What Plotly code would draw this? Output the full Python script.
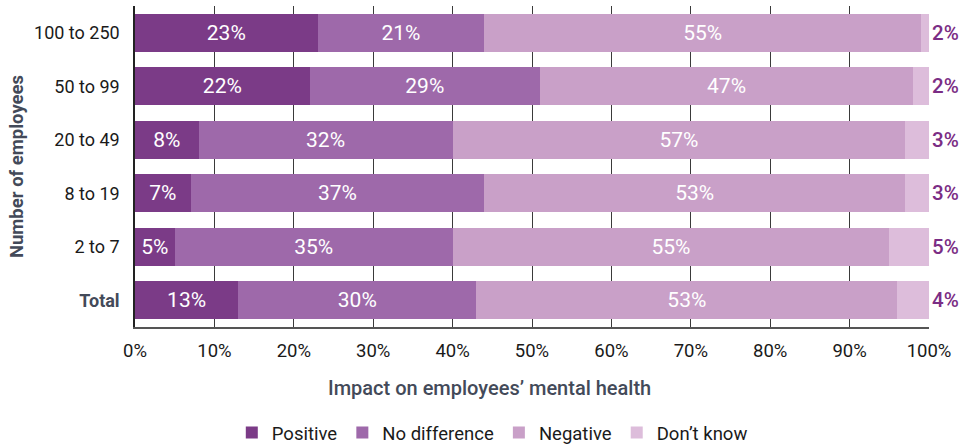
import plotly.graph_objects as go

# Company size bands, top to bottom
categories = ["100 to 250", "50 to 99", "20 to 49", "8 to 19", "2 to 7", "Total"]

# Share of respondents (%) per impact answer
positive = [23, 22, 8, 7, 5, 13]
no_difference = [21, 29, 32, 37, 35, 30]
negative = [55, 47, 57, 53, 55, 53]
dont_know = [2, 2, 3, 3, 5, 4]

x_ticks = list(range(0, 101, 10))
x_tick_labels = [f"{v}%" for v in x_ticks]

FONT = "Roboto"
SLATE = "#434a59"

series = [
    ("Positive", positive, "#7b3b87"),
    ("No difference", no_difference, "#9e69aa"),
    ("Negative", negative, "#c9a0c8"),
    ("Don\u2019t know", dont_know, "#ddbddb"),
]

fig = go.Figure()
for i, (name, vals, color) in enumerate(series):
    inside = i < 3
    fig.add_trace(go.Bar(
        y=categories,
        x=vals,
        name=name,
        orientation="h",
        marker=dict(color=color, line=dict(width=0)),
        text=[f"{v}%" for v in vals] if inside else None,
        textposition="inside" if inside else "none",
        insidetextanchor="middle",
        textfont=dict(family=FONT, size=21, color="white"),
        hoverinfo="skip",
    ))

# "Don't know" shares are written just past the end of each bar
for cat, v in zip(categories, dont_know):
    fig.add_annotation(
        x=100, y=cat, xref="x", yref="y",
        text=f"{v}%", showarrow=False,
        xanchor="left", xshift=1,
        font=dict(family=FONT, size=20.5, color="#7b2d85", weight=500),
    )

# Horizontal axis title
fig.add_annotation(
    x=0.447, y=-0.19, xref="paper", yref="paper",
    text="Impact on employees\u2019 mental health", showarrow=False,
    xanchor="center", yanchor="middle",
    font=dict(family=FONT, size=20, color=SLATE, weight=500),
)

tick_text = [f"<b><span style='color:{SLATE}'>{c}</span></b>" if c == "Total" else c
             for c in categories]

fig.update_layout(
    width=964, height=446,
    margin=dict(l=135, r=35, t=6, b=119, autoexpand=False),
    barmode="stack",
    bargap=0.29,
    plot_bgcolor="white",
    paper_bgcolor="white",
    font=dict(family=FONT, size=18, color="#1a1a1a"),
    uniformtext=dict(minsize=21, mode="show"),
    showlegend=True,
    legend=dict(
        orientation="h",
        x=0.450, xanchor="center",
        yref="container",
        y=1 - 433 / 446, yanchor="middle",
        font=dict(family=FONT, size=18.5, color="#1a1a1a"),
        traceorder="normal",
        itemclick=False,
    ),
    xaxis=dict(
        range=[0, 100],
        tickvals=x_ticks,
        ticktext=x_tick_labels,
        showgrid=True,
        gridcolor="#3a3a3a",
        gridwidth=1,
        showline=True,
        linecolor="#555555",
        linewidth=1.5,
        zeroline=False,
        ticks="",
        ticklabelstandoff=6,
        tickfont=dict(family=FONT, size=18.5, color="#1a1a1a"),
    ),
    yaxis=dict(
        categoryorder="array",
        categoryarray=categories,
        tickvals=categories,
        ticktext=tick_text,
        autorange="reversed",
        showline=True,
        linecolor="#222222",
        linewidth=1.5,
        showgrid=False,
        ticks="",
        ticklabelstandoff=10,
        tickfont=dict(family=FONT, size=18, color="#1a1a1a"),
        title=dict(
            text="Number of employees",
            font=dict(family=FONT, size=18.5, color=SLATE, weight="bold"),
            standoff=6,
        ),
    ),
)

fig.write_html("out.html")
